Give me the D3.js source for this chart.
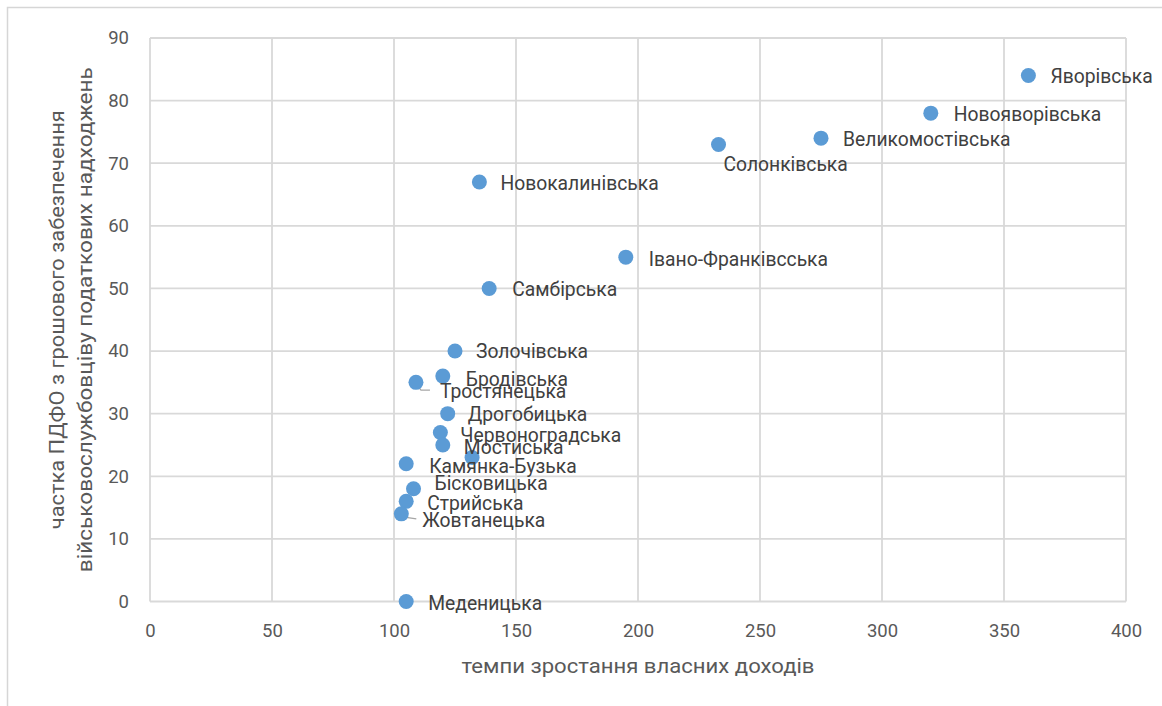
<!DOCTYPE html>
<html>
<head>
<meta charset="utf-8">
<script src="https://cdn.jsdelivr.net/npm/d3@7"></script>
<style>
  html, body { margin: 0; padding: 0; background: #fff; }
  svg { display: block; }
</style>
</head>
<body>
<svg id="chart" width="1162" height="706"></svg>
<script>
// ---- data ----
const communities = [
  "Яворівська", "Новояворівська", "Великомостівська", "Солонківська",
  "Новокалинівська", "Івано-Франківсська", "Самбірська", "Золочівська",
  "Бродівська", "Тростянецька", "Дрогобицька", "Червоноградська",
  "Мостиська", "", "Камянка-Бузька", "Бісковицька", "Стрийська",
  "Жовтанецька", "Меденицька"
];
const incomeGrowth = [360, 320, 275, 233, 135, 195, 139, 125, 120, 109, 122, 119, 120, 132, 105, 108, 105, 103, 105];
const pitShare =     [84, 78, 74, 73, 67, 55, 50, 40, 36, 35, 30, 27, 25, 23, 22, 18, 16, 14, 0];
const xTicks = [0, 50, 100, 150, 200, 250, 300, 350, 400];
const yTicks = [0, 10, 20, 30, 40, 50, 60, 70, 80, 90];
const xTitle = "темпи зростання власних доходів";
const yTitleLines = ["частка ПДФО з грошового забезпечення", "військовослужбовціву податкових надходжень"];

// ---- layout (label offsets: dx, dy from point centre) ----
const labelOffsets = [
  [22, 1], [23, 1], [22, 1], [5, 20], [21, 1], [23, 2], [23, 1], [21, 0],
  [23, 3], [24, 9], [20, 1], [20, 3], [21, 2], [0, 0], [23, 2], [21, -6],
  [21, 2], [21, 6.5], [22, 2]
];
const leaders = { "Тростянецька": [[0, 1], [5, 7.7], [14, 7.7]], "Жовтанецька": [[0, 0], [5, 3.5], [15, 5]] };

const svg = d3.select("#chart");
const pLeft = 150, pRight = 1126, pTop = 38, pBottom = 601.5;
const x = d3.scaleLinear().domain([0, 400]).range([pLeft, pRight]);
const y = d3.scaleLinear().domain([0, 90]).range([pBottom, pTop]);
const font = "Roboto, 'Liberation Sans', sans-serif";
const grid = "#d9d9d9";

// outer frame
svg.append("path").attr("d", "M7.5,706 L7.5,7.5 L1162,7.5")
  .attr("fill", "none").attr("stroke", "#d6d6d6").attr("stroke-width", 1.5);

// gridlines
svg.append("g").selectAll("line").data(yTicks).join("line")
  .attr("x1", pLeft).attr("x2", pRight)
  .attr("y1", d => y(d)).attr("y2", d => y(d))
  .attr("stroke", grid).attr("stroke-width", 1.8);
svg.append("g").selectAll("line").data(xTicks).join("line")
  .attr("y1", pTop).attr("y2", pBottom)
  .attr("x1", d => x(d)).attr("x2", d => x(d))
  .attr("stroke", grid).attr("stroke-width", 1.8);

// axes (tick labels only)
const xAxis = svg.append("g").attr("transform", `translate(0,${pBottom})`)
  .call(d3.axisBottom(x).tickValues(xTicks).tickSize(0).tickPadding(22).tickFormat(d3.format("d")));
const yAxis = svg.append("g").attr("transform", `translate(${pLeft},0)`)
  .call(d3.axisLeft(y).tickValues(yTicks).tickSize(0).tickPadding(21).tickFormat(d3.format("d")));
[xAxis, yAxis].forEach(a => {
  a.select(".domain").remove();
  a.selectAll("text").attr("fill", "#595959").style("font-family", font).style("font-size", "18.5px");
});

// axis titles
svg.append("text").attr("x", (pLeft + pRight) / 2).attr("y", 673)
  .attr("text-anchor", "middle").attr("fill", "#595959")
  .style("font-family", font).style("font-size", "20px")
  .attr("textLength", 353).attr("lengthAdjust", "spacingAndGlyphs")
  .text(xTitle);
const yMid = (pTop + pBottom) / 2;
const yTitleX = [64, 92], yTitleLen = [419, 505];
yTitleLines.forEach((t, i) => {
  svg.append("text")
    .attr("transform", `translate(${yTitleX[i]},${yMid}) rotate(-90)`)
    .attr("text-anchor", "middle").attr("fill", "#595959")
    .style("font-family", font).style("font-size", "21px")
    .attr("textLength", yTitleLen[i]).attr("lengthAdjust", "spacingAndGlyphs")
    .text(t);
});

const pts = communities.map((n, i) => ({ name: n, gx: incomeGrowth[i], sy: pitShare[i], off: labelOffsets[i] }));

// leader lines
svg.append("g").selectAll("path").data(pts.filter(d => leaders[d.name])).join("path")
  .attr("d", d => d3.line()(leaders[d.name].map(p => [x(d.gx) + p[0], y(d.sy) + p[1]])))
  .attr("fill", "none").attr("stroke", "#a6a6a6").attr("stroke-width", 1.3);

// points
svg.append("g").selectAll("circle").data(pts).join("circle")
  .attr("cx", d => x(d.gx)).attr("cy", d => y(d.sy)).attr("r", 7.5)
  .attr("fill", "#5b9bd5");

// labels
svg.append("g").selectAll("text").data(pts.filter(d => d.name)).join("text")
  .attr("x", d => x(d.gx) + d.off[0]).attr("y", d => y(d.sy) + d.off[1])
  .attr("dy", "0.35em").attr("fill", "#404040")
  .style("font-family", font).style("font-size", "19.3px")
  .text(d => d.name);
</script>
</body>
</html>
